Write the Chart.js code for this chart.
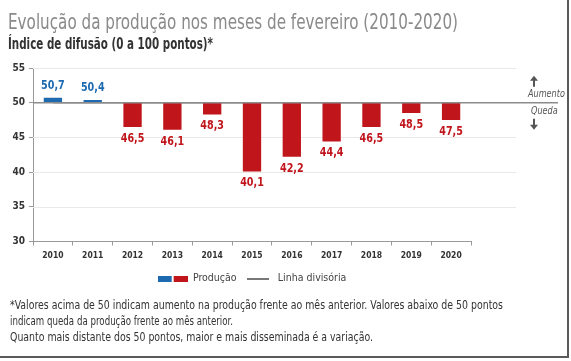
<!DOCTYPE html>
<html lang="pt-BR">
<head>
<meta charset="utf-8">
<script src="https://cdn.jsdelivr.net/npm/chart.js@4.4.1/dist/chart.umd.min.js"></script>
<style>
  html, body { margin: 0; padding: 0; background: #fff; }
  #wrap { position: relative; width: 571px; height: 361px; overflow: hidden;
          font-family: "Liberation Sans Narrow", "DejaVu Sans Condensed", sans-serif; }
  #frame { position: absolute; left: 0; top: 0; width: 567px; height: 356px;
           border-right: 2px solid #5a5a5a; border-bottom: 2px solid #5a5a5a; pointer-events: none; }
  .txt { position: absolute; white-space: nowrap; transform-origin: 0 0; line-height: 1; }
  #titulo { left: 8px; top: 11px; font-size: 22px; color: #8a8a8a; }
  #subtitulo { left: 8px; top: 37px; font-size: 15px; font-weight: bold; color: #333; }
  .nota { left: 10px; font-size: 13px; color: #333; }
  canvas { position: absolute; left: 0; top: 0; }
</style>
</head>
<body>
<div id="wrap">
  <canvas id="grafico" width="571" height="361"></canvas>
  <div class="txt" id="titulo" data-w="450">Evolução da produção nos meses de fevereiro (2010-2020)</div>
  <div class="txt" id="subtitulo" data-w="205">Índice de difusão (0 a 100 pontos)*</div>
  <div class="txt nota" style="top:298px" data-w="493">*Valores acima de 50 indicam aumento na produção frente ao mês anterior. Valores abaixo de 50 pontos</div>
  <div class="txt nota" style="top:314px" data-w="223">indicam queda da produção frente ao mês anterior.</div>
  <div class="txt nota" style="top:330px" data-w="363">Quanto mais distante dos 50 pontos, maior e mais disseminada é a variação.</div>
  <div id="frame"></div>
</div>
<script>
// dados
const anos = ['2010', '2011', '2012', '2013', '2014', '2015', '2016', '2017', '2018', '2019', '2020'];
const producao = [50.7, 50.4, 46.5, 46.1, 48.3, 40.1, 42.2, 44.4, 46.5, 48.5, 47.5];
const linhaDivisoria = [50, 50, 50, 50, 50, 50, 50, 50, 50, 50, 50];
const ticksY = [30, 35, 40, 45, 50, 55];

const AZUL = '#1d6ab1';
const VERMELHO = '#c1151c';
const FONTE = '"Liberation Sans Narrow", "DejaVu Sans Condensed", sans-serif';

// ajusta a largura dos textos (fonte condensada)
document.querySelectorAll('.txt').forEach(el => {
    const w = el.getBoundingClientRect().width;
    el.style.transform = 'scaleX(' + (Number(el.dataset.w) / w) + ')';
});

// texto condensado no canvas
function textoEstreito(ctx, txt, x, y, esc) {
    ctx.save();
    ctx.translate(x, y);
    ctx.scale(esc, 1);
    ctx.fillText(txt, 0, 0);
    ctx.restore();
}

// amostras da legenda (azul + vermelho juntos, e a linha)
const amostraProducao = document.createElement('canvas');
amostraProducao.width = 30; amostraProducao.height = 6;
let c = amostraProducao.getContext('2d');
c.fillStyle = AZUL; c.fillRect(0, 0, 14, 6);
c.fillStyle = VERMELHO; c.fillRect(16, 0, 14, 6);

const amostraLinha = document.createElement('canvas');
amostraLinha.width = 22; amostraLinha.height = 2;
c = amostraLinha.getContext('2d');
c.fillStyle = '#777'; c.fillRect(0, 0, 22, 2);

// linhas de grade que passam do eixo x + linha dos 50 pontos + setas
const extras = {
    id: 'extras',
    beforeDatasetsDraw(chart) {
        const ctx = chart.ctx, y = chart.scales.y, area = chart.chartArea;
        ctx.save();
        ctx.strokeStyle = '#e9e9e9';
        ctx.lineWidth = 1;
        ticksY.forEach(v => {
            if (v === 30 || v === 50) return;
            const py = Math.round(y.getPixelForValue(v)) + 0.5;
            ctx.beginPath(); ctx.moveTo(area.left, py); ctx.lineTo(516, py); ctx.stroke();
        });
        ctx.restore();
    },
    afterDatasetsDraw(chart) {
        const ctx = chart.ctx, y = chart.scales.y, area = chart.chartArea;
        const py = y.getPixelForValue(50);
        ctx.save();
        ctx.strokeStyle = '#8c8c8c';
        ctx.lineWidth = 1.5;
        ctx.beginPath(); ctx.moveTo(area.left, py); ctx.lineTo(558, py); ctx.stroke();

        // rótulos das barras
        const meta = chart.getDatasetMeta(0);
        ctx.font = 'bold 13px ' + FONTE;
        ctx.textAlign = 'center';
        meta.data.forEach((bar, i) => {
            const v = producao[i];
            const txt = v.toFixed(1).replace('.', ',');
            const topo = Math.min(bar.y, bar.base), fundo = Math.max(bar.y, bar.base);
            if (v >= 50) {
                ctx.fillStyle = AZUL;
                ctx.textBaseline = 'bottom';
                textoEstreito(ctx, txt, bar.x, topo - 6, 0.82);
            } else {
                ctx.fillStyle = VERMELHO;
                ctx.textBaseline = 'top';
                textoEstreito(ctx, txt, bar.x, fundo + 5, 0.82);
            }
        });

        // Aumento / Queda
        ctx.fillStyle = '#555';
        ctx.font = 'italic 11px ' + FONTE;
        ctx.textAlign = 'left';
        ctx.textBaseline = 'middle';
        textoEstreito(ctx, 'Aumento', 528, py - 9, 0.82);
        textoEstreito(ctx, 'Queda', 531, py + 8, 0.82);
        const ax = 534;
        ctx.lineWidth = 2;
        ctx.strokeStyle = '#555';
        ctx.beginPath(); ctx.moveTo(ax, py - 16); ctx.lineTo(ax, py - 23); ctx.stroke();
        ctx.beginPath(); ctx.moveTo(ax - 4, py - 22); ctx.lineTo(ax, py - 27); ctx.lineTo(ax + 4, py - 22); ctx.closePath(); ctx.fill();
        ctx.beginPath(); ctx.moveTo(ax, py + 16); ctx.lineTo(ax, py + 23); ctx.stroke();
        ctx.beginPath(); ctx.moveTo(ax - 4, py + 22); ctx.lineTo(ax, py + 27); ctx.lineTo(ax + 4, py + 22); ctx.closePath(); ctx.fill();
        ctx.restore();
    }
};

new Chart(document.getElementById('grafico'), {
    data: {
        labels: anos,
        datasets: [{
            type: 'bar',
            label: 'Produção',
            data: producao.map(v => [50, v]),
            backgroundColor: producao.map(v => v >= 50 ? AZUL : VERMELHO),
            barPercentage: 0.46,
            categoryPercentage: 1,
            pointStyle: amostraProducao
        }, {
            type: 'line',
            label: 'Linha divisória',
            data: linhaDivisoria,
            borderColor: '#8c8c8c',
            borderWidth: 1.5,
            pointRadius: 0,
            pointStyle: amostraLinha
        }]
    },
    options: {
        responsive: false,
        animation: false,
        layout: { padding: { left: 8, right: 100, top: 68, bottom: 67 } },
        plugins: {
            legend: {
                position: 'bottom',
                fullSize: false,
                labels: {
                    usePointStyle: true,
                    pointStyleWidth: 30,
                    color: '#444',
                    font: { family: FONTE, size: 10.5 },
                    padding: 6
                }
            },
            tooltip: { enabled: false }
        },
        scales: {
            x: {
                offset: true,
                grid: { display: true, offset: true, drawOnChartArea: false, tickLength: 4, color: '#999' },
                border: { color: '#999' },
                ticks: { color: '#333', font: { family: FONTE, size: 8.5, weight: 'bold' }, padding: 5 },
                afterFit(s) { s.height = 26; }
            },
            y: {
                min: 30,
                max: 55,
                afterBuildTicks(s) { s.ticks = ticksY.map(v => ({ value: v })); },
                grid: { display: true, drawOnChartArea: false, tickLength: 4, color: '#999' },
                border: { color: '#999' },
                ticks: { color: '#333', font: { family: FONTE, size: 10, weight: 'bold' }, padding: 4 },
                afterFit(s) { s.width = 25; }
            }
        }
    },
    plugins: [extras]
});
</script>
</body>
</html>
